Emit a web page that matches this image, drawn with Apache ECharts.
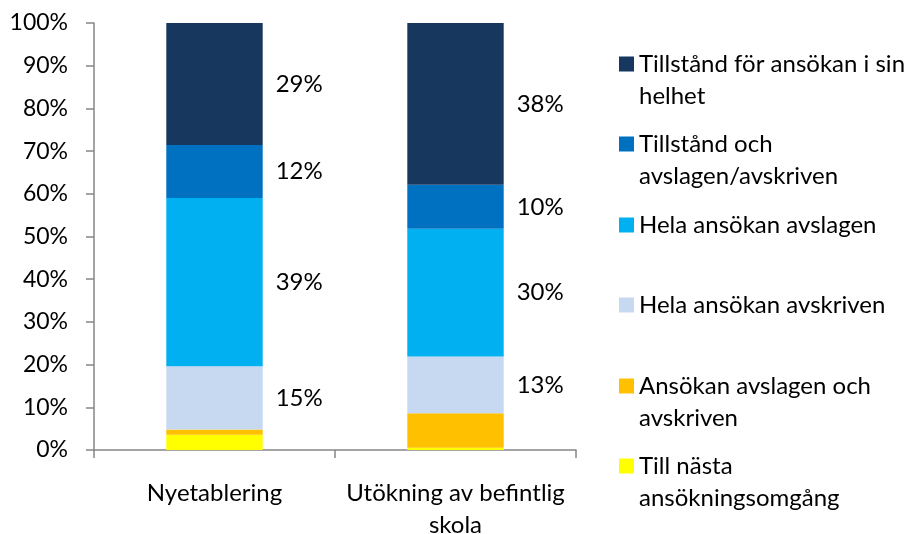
<!DOCTYPE html>
<html>
<head>
<meta charset="utf-8">
<script src="https://cdn.jsdelivr.net/npm/echarts@6/dist/echarts.min.js"></script>
<style>html,body{margin:0;padding:0;background:#fff}#main{width:914px;height:534px}</style>
</head>
<body>
<div id="main"></div>
<script>
var myChart = echarts.init(document.getElementById('main'));

// data, bottom of the stack first
var categories = ['Nyetablering', 'Utökning av befintlig\nskola'];
var seriesNames = [
    'Till nästa ansökningsomgång',
    'Ansökan avslagen och avskriven',
    'Hela ansökan avskriven',
    'Hela ansökan avslagen',
    'Tillstånd och avslagen/avskriven',
    'Tillstånd för ansökan i sin helhet'
];
var tillNasta = [3.6, 0.5];
var avslagenOchAvskriven = [1.2, 8.1];
var helaAvskriven = [14.8, 13.3];
var helaAvslagen = [39.4, 29.9];
var tillstandOch = [12.4, 10.3];
var tillstandHelhet = [28.6, 37.9];
var yTicks = [0, 10, 20, 30, 40, 50, 60, 70, 80, 90, 100];

var values = [tillNasta, avslagenOchAvskriven, helaAvskriven, helaAvslagen, tillstandOch, tillstandHelhet];
var colors = ['#FFFF00', '#FFC000', '#C6D9F1', '#00B0F0', '#0070C0', '#17375E'];
var showLabel = [false, false, true, true, true, true];
var legendText = {
    'Tillstånd för ansökan i sin helhet': 'Tillstånd för ansökan i sin\nhelhet',
    'Tillstånd och avslagen/avskriven': 'Tillstånd och\navslagen/avskriven',
    'Hela ansökan avslagen': 'Hela ansökan avslagen',
    'Hela ansökan avskriven': 'Hela ansökan avskriven',
    'Ansökan avslagen och avskriven': 'Ansökan avslagen och\navskriven',
    'Till nästa ansökningsomgång': 'Till nästa\nansökningsomgång'
};
// icon centre y for each legend entry, top to bottom
var legendCenters = [64, 144, 225, 305, 386, 466];

var FONT = 'Lato';
var FS = 24;

var series = seriesNames.map(function (name, i) {
    return {
        name: name,
        type: 'bar',
        stack: 'total',
        barCategoryGap: '60%',
        itemStyle: { color: colors[i] },
        label: {
            show: showLabel[i],
            position: 'right',
            distance: 13,
            color: '#000',
            fontFamily: FONT,
            fontSize: FS,
            formatter: function (p) { return Math.round(p.value) + '%'; }
        },
        emphasis: { disabled: true },
        data: values[i]
    };
});

var legendOrder = seriesNames.slice().reverse();
var legends = legendOrder.map(function (name, i) {
    var txt = legendText[name];
    var twoLines = txt.indexOf('\n') >= 0;
    return {
        data: [name],
        orient: 'vertical',
        left: 619,
        top: legendCenters[i] - (twoLines ? 48 : 16),
        padding: 0,
        itemWidth: 15,
        itemHeight: 15,
        selectedMode: false,
        icon: 'rect',
        textStyle: { fontFamily: FONT, fontSize: FS, color: '#000', lineHeight: 32 },
        formatter: function () { return twoLines ? ' \n' + txt : txt; }
    };
});

option = {
    animation: false,
    textStyle: { fontFamily: FONT },
    legend: legends,
    grid: { left: 94, right: 338, top: 23, bottom: 84, containLabel: false, outerBoundsMode: 'none' },
    xAxis: {
        type: 'category',
        data: categories,
        axisLine: { lineStyle: { color: '#868686', width: 1.5 } },
        axisTick: { show: true, length: 8, lineStyle: { color: '#868686', width: 1.5 } },
        axisLabel: { interval: 0, color: '#000', fontFamily: FONT, fontSize: FS, lineHeight: 32, margin: 27 }
    },
    yAxis: {
        type: 'value',
        min: yTicks[0],
        max: yTicks[yTicks.length - 1],
        interval: 10,
        splitLine: { show: false },
        axisLine: { show: true, lineStyle: { color: '#868686', width: 1.5 } },
        axisTick: { show: true, length: 8, lineStyle: { color: '#868686', width: 1.5 } },
        axisLabel: { color: '#000', fontFamily: FONT, fontSize: 23, margin: 26, formatter: '{value}%' }
    },
    series: series
};

myChart.setOption(option);
</script>
</body>
</html>
